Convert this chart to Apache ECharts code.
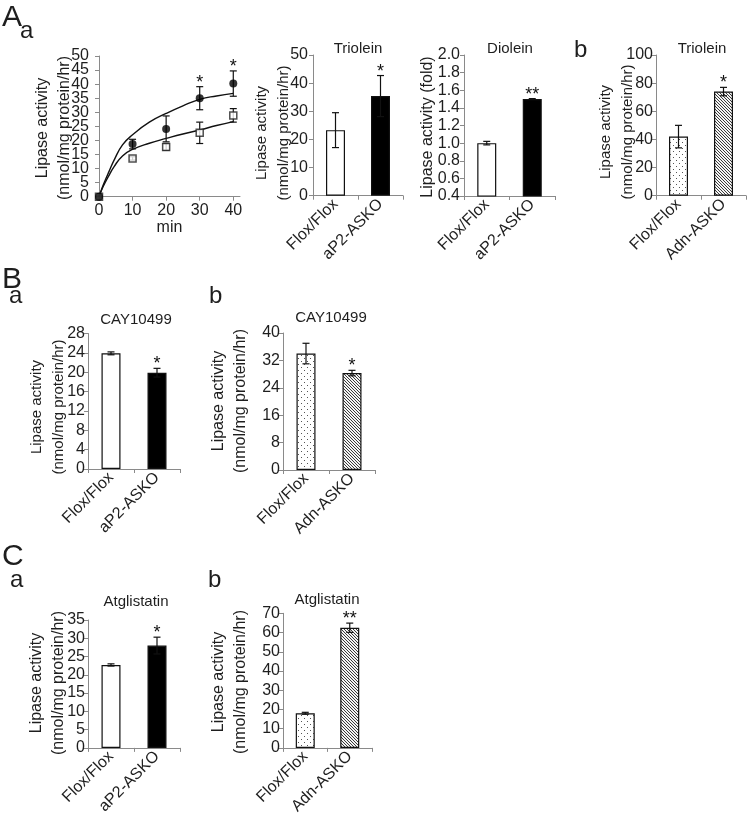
<!DOCTYPE html>
<html><head><meta charset="utf-8">
<script src="https://cdn.jsdelivr.net/npm/echarts@6/dist/echarts.min.js"></script>
<style>html,body{margin:0;padding:0;background:#fff}#c{width:750px;height:817px}</style>
</head><body><div id="c"></div>
<script>
// ---------- data ----------
const timeMin = [0, 10, 20, 30, 40];
const koMean = [0, 18.7, 24.1, 35.0, 40.2];
const koErr = [0, 1.7, 4.6, 4.1, 4.5];
const ffMean = [0, 13.6, 17.7, 22.7, 28.9];
const ffErr = [0, 0.6, 1.2, 3.8, 2.4];
const timeSig = ['', '', '', '*', '*'];
const timeTicks = [0, 10, 20, 30, 40];
const timeYTicks = [0, 5, 10, 15, 20, 25, 30, 35, 40, 45, 50];
const fitX = [0, 1, 2, 3, 4.5, 7, 10, 15, 20, 25, 30, 35, 40];
const koFit = [0, 3.4, 6.3, 9, 13, 18.4, 22, 26.5, 29.6, 32.3, 34.6, 35.8, 36.7];
const ffFit = [0, 3, 5.4, 7.6, 10.7, 14.5, 16.8, 19, 20.7, 22.3, 23.7, 25.3, 26.7];

const groupsAP2 = ['Flox/Flox', 'aP2-ASKO'];
const groupsAdn = ['Flox/Flox', 'Adn-ASKO'];

const trioleinAP2 = [23.3, 35.4];
const trioleinAP2Err = [6.2, 7.3];
const trioleinAP2Sig = ['', '*'];

const dioleinAP2 = [1.0, 1.5];
const dioleinAP2Err = [0.02, 0.005];
const dioleinAP2Sig = ['', '**'];

const trioleinAdn = [42, 74];
const trioleinAdnErr = [8, 3];
const trioleinAdnSig = ['', '*'];

const cayAP2 = [23.9, 19.9];
const cayAP2Err = [0.3, 0.9];
const cayAP2Sig = ['', '*'];

const cayAdn = [34, 28.3];
const cayAdnErr = [3, 0.8];
const cayAdnSig = ['', '*'];

const atgAP2 = [22.7, 28];
const atgAP2Err = [0.3, 2.3];
const atgAP2Sig = ['', '*'];

const atgAdn = [18, 62.5];
const atgAdnErr = [0.5, 2.4];
const atgAdnSig = ['', '**'];

// axis ranges [min, max, interval]
const timeY = [0, 50, 5];
const trioleinAP2Y = [0, 50, 10];
const dioleinAP2Y = [0.4, 2.0, 0.2];
const trioleinAdnY = [0, 100, 20];
const cayAP2Y = [0, 28, 4];
const cayAdnY = [0, 40, 8];
const atgAP2Y = [0, 35, 5];
const atgAdnY = [0, 70, 10];

// ---------- styles ----------
const FONT = 'Liberation Sans, Arial, sans-serif';
const TXT = '#1e1e1e';
const AX = '#8a8a8a';

function dotPattern() {
  const c = document.createElement('canvas'); c.width = 6; c.height = 6;
  const g = c.getContext('2d');
  g.fillStyle = '#fff'; g.fillRect(0, 0, 6, 6);
  g.fillStyle = '#555'; g.fillRect(1, 1, 1, 1); g.fillRect(4, 4, 1, 1);
  return c;
}
function hatchPattern() {
  const c = document.createElement('canvas'); c.width = 3; c.height = 3;
  const g = c.getContext('2d');
  g.fillStyle = '#f4f4f4'; g.fillRect(0, 0, 3, 3);
  g.fillStyle = '#3a3a3a';
  g.fillRect(0, 0, 1, 1); g.fillRect(1, 1, 1, 1); g.fillRect(2, 2, 1, 1);
  return c;
}
const FILL = {
  white: '#ffffff',
  black: '#000000',
  dots: { image: dotPattern(), repeat: 'repeat' },
  hatch: { image: hatchPattern(), repeat: 'repeat' }
};

// grids: [left, top, width, height]
const gridBoxes = [
  [99, 56, 141, 140.7],
  [313, 55, 90, 140.7],
  [464, 55, 91, 141],
  [656, 55, 90, 140.7],
  [88, 333.5, 92, 135.5],
  [283, 333, 92, 137],
  [88, 620, 92, 130],
  [283, 613.3, 89, 137.4]
];

function yAxisOf(gi, r, margin, hideLabels) {
  return {
    type: 'value', gridIndex: gi, min: r[0], max: r[1], interval: r[2],
    axisLine: { show: true, lineStyle: { color: AX, width: 1 } },
    axisTick: { show: true, length: 4, lineStyle: { color: AX } },
    splitLine: { show: false },
    axisLabel: { show: !hideLabels, fontSize: 16, color: TXT, fontFamily: FONT, margin: margin || 4,
      showMinLabel: true, showMaxLabel: true, hideOverlap: false,
      formatter: function (v) { return r[2] < 1 ? v.toFixed(1) : String(v); } }
  };
}
function catAxisOf(gi, cats) {
  return {
    type: 'category', gridIndex: gi, data: cats,
    axisLine: { show: true, lineStyle: { color: AX, width: 1 } },
    axisTick: { show: true, length: 4, alignWithLabel: false, lineStyle: { color: AX } },
    axisLabel: { rotate: 45, fontSize: 16, color: TXT, fontFamily: FONT, margin: 6, interval: 0 }
  };
}
function barSeries(gi, vals, fills) {
  return {
    type: 'bar', xAxisIndex: gi, yAxisIndex: gi, barWidth: 19, clip: true, silent: true,
    data: vals.map((v, i) => ({ value: v, itemStyle: { color: FILL[fills[i]], borderColor: '#111', borderWidth: 1.2 } }))
  };
}
function errorSeries(gi, means, errs, sig, xs) {
  return {
    type: 'custom', xAxisIndex: gi, yAxisIndex: gi, silent: true, z: 6, clip: false,
    data: means.map((m, i) => [xs ? xs[i] : i, m, errs[i]]),
    renderItem: function (params, api) {
      const x = api.value(0), m = api.value(1), e = api.value(2);
      const t = api.coord([x, m + e]), b = api.coord([x, m - e]);
      const hw = 3.5;
      const st = { stroke: '#111', lineWidth: 1.2 };
      const ch = [];
      if (e > 0) {
        ch.push({ type: 'line', shape: { x1: t[0], y1: t[1], x2: b[0], y2: b[1] }, style: st });
        ch.push({ type: 'line', shape: { x1: t[0] - hw, y1: t[1], x2: t[0] + hw, y2: t[1] }, style: st });
        ch.push({ type: 'line', shape: { x1: b[0] - hw, y1: b[1], x2: b[0] + hw, y2: b[1] }, style: st });
      }
      const s = sig[params.dataIndex];
      if (s) ch.push({ type: 'text', x: t[0], y: t[1] - 4,
        style: { text: s, fill: '#111', font: '18px ' + FONT, align: 'center', verticalAlign: 'middle' } });
      return { type: 'group', children: ch };
    }
  };
}
// tick labels of the time-course y axis, placed through the axis scale
const timeYLabelSeries = {
  type: 'custom', xAxisIndex: 0, yAxisIndex: 0, silent: true, clip: false, z: 3,
  data: timeYTicks.map(v => [0, v]),
  renderItem: function (params, api) {
    const p = api.coord([0, api.value(1)]);
    return { type: 'text', x: p[0] - 10, y: p[1],
      style: { text: String(api.value(1)), fill: TXT, font: '16px ' + FONT, align: 'right', verticalAlign: 'middle' } };
  }
};

const grids = gridBoxes.map(b => ({ left: b[0], top: b[1], width: b[2], height: b[3], containLabel: false }));

const xAxes = [
  {
    type: 'value', gridIndex: 0, min: 0, max: 42, interval: 10,
    name: 'min', nameLocation: 'middle', nameGap: 22,
    nameTextStyle: { fontSize: 16, color: TXT, fontFamily: FONT },
    axisLine: { show: true, onZero: false, lineStyle: { color: AX } },
    axisTick: { show: true, length: 4, customValues: timeTicks, lineStyle: { color: AX } },
    splitLine: { show: false },
    axisLabel: { fontSize: 16, color: TXT, fontFamily: FONT, margin: 6, customValues: timeTicks,
      formatter: function (v) { return v % 10 === 0 ? String(v) : ''; } }
  },
  catAxisOf(1, groupsAP2),
  catAxisOf(2, groupsAP2),
  catAxisOf(3, groupsAdn),
  catAxisOf(4, groupsAP2),
  catAxisOf(5, groupsAdn),
  catAxisOf(6, groupsAP2),
  catAxisOf(7, groupsAdn)
];
const yAxes = [
  yAxisOf(0, timeY, 9, true), yAxisOf(1, trioleinAP2Y, 5), yAxisOf(2, dioleinAP2Y, 4), yAxisOf(3, trioleinAdnY, 3),
  yAxisOf(4, cayAP2Y, 3), yAxisOf(5, cayAdnY, 3), yAxisOf(6, atgAP2Y, 3), yAxisOf(7, atgAdnY, 3)
];

const series = [
  timeYLabelSeries,
  { type: 'line', xAxisIndex: 0, yAxisIndex: 0, smooth: 0.5, symbol: 'none', silent: true,
    lineStyle: { color: '#111', width: 1.4 }, data: fitX.map((x, i) => [x, koFit[i]]) },
  { type: 'line', xAxisIndex: 0, yAxisIndex: 0, smooth: 0.5, symbol: 'none', silent: true,
    lineStyle: { color: '#111', width: 1.4 }, data: fitX.map((x, i) => [x, ffFit[i]]) },
  errorSeries(0, koMean, koErr, timeSig, timeMin),
  errorSeries(0, ffMean, ffErr, ['', '', '', '', ''], timeMin),
  { type: 'scatter', xAxisIndex: 0, yAxisIndex: 0, symbol: 'rect', symbolSize: 7, z: 8, silent: true,
    itemStyle: { color: '#fff', borderColor: '#222', borderWidth: 1.5 },
    data: timeMin.map((x, i) => [x, ffMean[i]]) },
  { type: 'scatter', xAxisIndex: 0, yAxisIndex: 0, symbol: 'circle', symbolSize: 8, z: 9, silent: true,
    itemStyle: { color: '#000' },
    data: timeMin.map((x, i) => [x, koMean[i]]) },

  barSeries(1, trioleinAP2, ['white', 'black']),
  errorSeries(1, trioleinAP2, trioleinAP2Err, trioleinAP2Sig),
  barSeries(2, dioleinAP2, ['white', 'black']),
  errorSeries(2, dioleinAP2, dioleinAP2Err, dioleinAP2Sig),
  barSeries(3, trioleinAdn, ['dots', 'hatch']),
  errorSeries(3, trioleinAdn, trioleinAdnErr, trioleinAdnSig),
  barSeries(4, cayAP2, ['white', 'black']),
  errorSeries(4, cayAP2, cayAP2Err, cayAP2Sig),
  barSeries(5, cayAdn, ['dots', 'hatch']),
  errorSeries(5, cayAdn, cayAdnErr, cayAdnSig),
  barSeries(6, atgAP2, ['white', 'black']),
  errorSeries(6, atgAP2, atgAP2Err, atgAP2Sig),
  barSeries(7, atgAdn, ['dots', 'hatch']),
  errorSeries(7, atgAdn, atgAdnErr, atgAdnSig)
];

// ---------- texts ----------
function txt(s, x, y, size, opts) {
  opts = opts || {};
  return { type: 'text', x: x, y: y, rotation: opts.rot || 0, silent: true,
    style: { text: s, fill: TXT, font: size + 'px ' + FONT,
      align: opts.align || 'center', verticalAlign: 'middle' } };
}
const R = Math.PI / 2;
const L1 = 'Lipase activity', L2 = '(nmol/mg protein/hr)';
const graphics = [
  txt('A', 2, 18, 30, { align: 'left' }),
  txt('a', 20, 31, 24, { align: 'left' }),
  txt('b', 574, 50, 24, { align: 'left' }),
  txt('B', 2, 280, 30, { align: 'left' }),
  txt('a', 9, 296, 24, { align: 'left' }),
  txt('b', 209, 296, 24, { align: 'left' }),
  txt('C', 2, 557, 30, { align: 'left' }),
  txt('a', 10, 580, 24, { align: 'left' }),
  txt('b', 208, 580, 24, { align: 'left' }),

  txt('Triolein', 358, 49, 15),
  txt('Diolein', 510, 49, 15),
  txt('Triolein', 702, 49, 15),
  txt('CAY10499', 136, 320, 15),
  txt('CAY10499', 331, 318, 15),
  txt('Atglistatin', 136, 602, 15),
  txt('Atglistatin', 327, 600, 15),

  txt(L1, 43, 128, 16, { rot: R }), txt(L2, 65, 128, 16, { rot: R }),
  txt(L1, 262, 133, 15, { rot: R }), txt(L2, 284, 133, 15, { rot: R }),
  txt('Lipase activity (fold)', 428, 127, 16, { rot: R }),
  txt(L1, 606, 132, 15, { rot: R }), txt(L2, 628, 132, 15, { rot: R }),
  txt(L1, 37, 407, 15, { rot: R }), txt(L2, 59, 407, 15, { rot: R }),
  txt(L1, 219, 401, 16, { rot: R }), txt(L2, 241, 401, 16, { rot: R }),
  txt(L1, 37, 683, 16, { rot: R }), txt(L2, 59, 683, 16, { rot: R }),
  txt(L1, 219, 682, 16, { rot: R }), txt(L2, 241, 682, 16, { rot: R })
];

const chart = echarts.init(document.getElementById('c'), null, { renderer: 'canvas' });
chart.setOption({
  backgroundColor: '#fff',
  animation: false,
  textStyle: { fontFamily: FONT },
  grid: grids,
  xAxis: xAxes,
  yAxis: yAxes,
  series: series,
  graphic: graphics
});
</script>
</body></html>
